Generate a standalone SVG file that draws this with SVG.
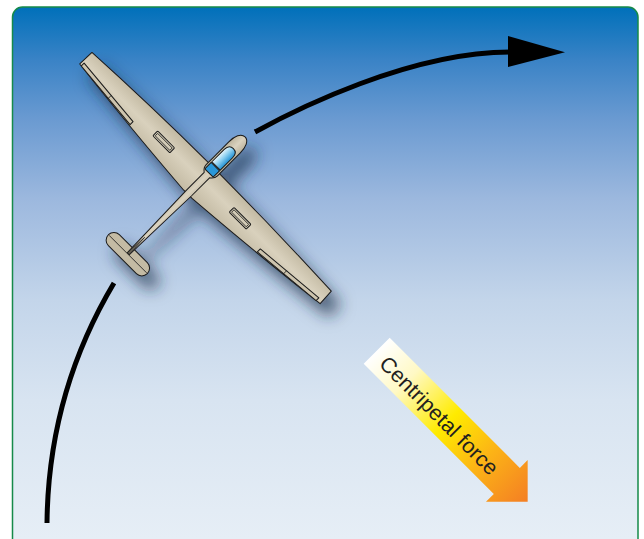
<svg xmlns="http://www.w3.org/2000/svg" width="644" height="539" viewBox="0 0 644 539">
  <defs>
    <linearGradient id="sky" gradientUnits="userSpaceOnUse" x1="0" y1="7" x2="0" y2="539">
      <stop offset="0" stop-color="#0070BA"/>
      <stop offset="0.1" stop-color="#3A83C6"/>
      <stop offset="0.21" stop-color="#6A9AD1"/>
      <stop offset="0.36" stop-color="#9CB8DE"/>
      <stop offset="0.55" stop-color="#C3D5EA"/>
      <stop offset="0.74" stop-color="#D8E4F1"/>
      <stop offset="1" stop-color="#E6EEF6"/>
    </linearGradient>
    <linearGradient id="wingFill" gradientUnits="userSpaceOnUse" x1="0" y1="-13" x2="0" y2="24">
      <stop offset="0" stop-color="#C2B9A2"/>
      <stop offset="0.45" stop-color="#D9D1BD"/>
      <stop offset="1" stop-color="#C4BBA4"/>
    </linearGradient>
    <linearGradient id="bodyFill" gradientUnits="userSpaceOnUse" x1="-8" y1="0" x2="8" y2="0">
      <stop offset="0" stop-color="#BFB69F"/>
      <stop offset="0.5" stop-color="#DAD2BF"/>
      <stop offset="1" stop-color="#BDB49D"/>
    </linearGradient>
    <linearGradient id="canopyFill" gradientUnits="userSpaceOnUse" x1="-6" y1="0" x2="6" y2="0">
      <stop offset="0" stop-color="#EAF7FD"/>
      <stop offset="0.45" stop-color="#8ED0F0"/>
      <stop offset="1" stop-color="#1E8FD3"/>
    </linearGradient>
    <linearGradient id="forceFill" gradientUnits="userSpaceOnUse" x1="0" y1="0" x2="213" y2="0">
      <stop offset="0" stop-color="#FFFFFF"/>
      <stop offset="0.2" stop-color="#FFF9C4"/>
      <stop offset="0.47" stop-color="#FFEB00"/>
      <stop offset="0.72" stop-color="#FCB316"/>
      <stop offset="1" stop-color="#F47F24"/>
    </linearGradient>
    <filter id="dropShadow" x="-30%" y="-30%" width="160%" height="160%">
      <feGaussianBlur in="SourceAlpha" stdDeviation="8" result="blur"/>
      <feOffset in="blur" dx="9" dy="13" result="shift"/>
      <feFlood flood-color="#1B2C45" flood-opacity="0.7"/>
      <feComposite in2="shift" operator="in" result="shade"/>
      <feMerge>
        <feMergeNode in="shade"/>
        <feMergeNode in="SourceGraphic"/>
      </feMerge>
    </filter>
    <style>
      .outline { stroke: #1A1A1A; stroke-width: 1; stroke-linejoin: round; }
      .thin { stroke: #1A1A1A; stroke-width: 0.8; fill: none; }
      .path { fill: none; stroke: #000000; stroke-width: 5; stroke-linecap: butt; }
      .label { font-family: "Liberation Sans", Arial, sans-serif; font-size: 21.5px; fill: #231F20; }
    </style>
  </defs>

  <!-- sky panel -->
  <g id="background">
    <rect x="0" y="0" width="644" height="539" fill="#FFFFFF"/>
    <rect x="12.5" y="7" width="625.5" height="560" rx="10" ry="10" fill="url(#sky)" stroke="#168A4A" stroke-width="1.5"/>
  </g>

  <!-- turning path -->
  <g id="flight-path">
    <path class="path" d="M114,283 C80,340 48,420 47,523"/>
    <path class="path" d="M255,132 C295,110 410,52 510,52"/>
    <polygon points="508,36 565,52.3 508,67" fill="#000000"/>
  </g>

  <!-- glider seen from above, banked in the turn -->
  <g id="glider" filter="url(#dropShadow)">
    <g transform="translate(204.75,177.25) rotate(45)">
      <!-- tailplane -->
      <rect class="outline" x="-27.5" y="101" width="55" height="15.5" rx="7.7" ry="7.7" fill="url(#wingFill)"/>
      <line class="thin" x1="-26.5" y1="108.7" x2="26.5" y2="108.7"/>
      <!-- wing -->
      <path class="outline" fill="url(#wingFill)" d="M-168,-8.5 Q-90,-12.5 -6,-13 L6,-13 Q90,-12.5 170,-9 L171,7.8 Q95,17 6,24 L-6,24 Q-95,17 -168.5,8.3 Z"/>
      <!-- ailerons -->
      <polygon class="outline" fill="#CDC4AE" points="-166,4.6 -90,11.4 -90,15.6 -166,8.6"/>
      <line class="thin" x1="-124" y1="8.3" x2="-124" y2="12.6"/>
      <polygon class="outline" fill="#CDC4AE" points="166,4.6 90,11.4 90,15.6 166,8.6"/>
      <line class="thin" x1="124" y1="8.3" x2="124" y2="12.6"/>
      <!-- airbrakes -->
      <rect class="outline" fill="#D3CBB6" x="-66" y="0.6" width="24" height="6.8" rx="1"/>
      <rect class="thin" x="-64.3" y="2.3" width="20.6" height="3.4"/>
      <rect class="outline" fill="#D3CBB6" x="42" y="0.6" width="24" height="6.8" rx="1"/>
      <rect class="thin" x="43.7" y="2.3" width="20.6" height="3.4"/>
      <!-- fuselage and tail boom -->
      <path class="outline" fill="url(#bodyFill)" d="M0,-57 C5.5,-57 8,-50 8,-42 L8,-10 Q8,-6 3.8,-3 L3.8,22 L1.4,108 L-1.4,108 L-3.8,22 L-3.8,-3 Q-8,-6 -8,-10 L-8,-42 C-8,-50 -5.5,-57 0,-57 Z"/>
      <!-- fin -->
      <polygon points="0,85 1.2,108 -1.2,108" fill="#6B6557" stroke="#1A1A1A" stroke-width="0.6"/>
      <!-- canopy -->
      <path class="outline" fill="url(#canopyFill)" d="M-5.9,-33.5 Q-5.9,-40.5 0,-40.5 Q5.9,-40.5 5.9,-33.5 L5.9,-16 L-5.9,-16 Z"/>
      <path class="outline" fill="#2A97D8" d="M-5.9,-15 L5.9,-15 L5.9,-7 Q5.9,-6 4.9,-6 L-4.9,-6 Q-5.9,-6 -5.9,-7 Z"/>
    </g>
  </g>

  <!-- centripetal force arrow -->
  <g id="centripetal-force" transform="translate(376.7,350.8) rotate(45)">
    <path d="M0,-18.4 L184,-18.4 L184,-29.5 L213.5,0 L184,29.5 L184,18.4 L0,18.4 Z" fill="url(#forceFill)"/>
    <text class="label" x="11" y="9">Centripetal force</text>
  </g>
</svg>
